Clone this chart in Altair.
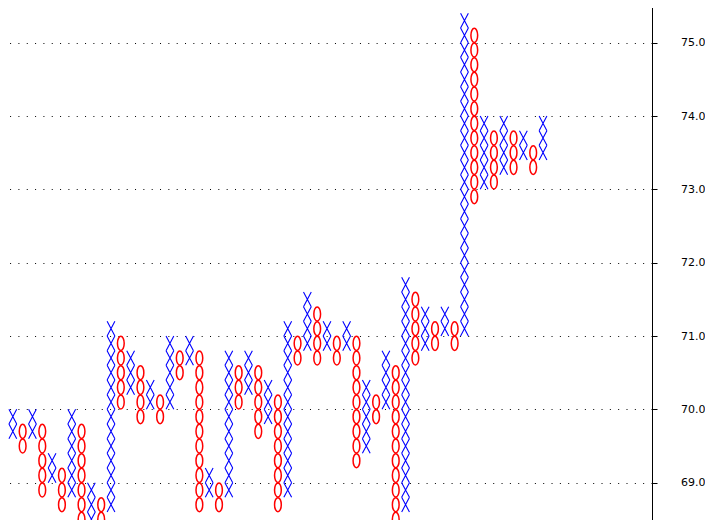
import altair as alt
import pandas as pd

# Point & figure columns: glyph type, upper edge of top box, lower edge of bottom box
col_type = ["O", "X", "O", "X", "O", "X", "O", "X", "O", "X",
            "O", "X", "O", "X", "O", "X", "O", "X", "O", "X",
            "O", "X", "O", "X", "O", "X", "O", "X", "O", "X",
            "O", "X", "O", "X", "O", "X", "O", "X", "O", "X",
            "O", "X", "O", "X", "O", "X", "O", "X", "O", "X",
            "O", "X", "O", "X", "O", "X"]
col_top = [69.8, 70.0, 69.8, 70.0, 69.8, 69.4, 69.2, 70.0, 69.8, 69.0,
           68.8, 71.2, 71.0, 70.8, 70.6, 70.4, 70.2, 71.0, 70.8, 71.0,
           70.8, 69.2, 69.0, 70.8, 70.6, 70.8, 70.6, 70.4, 70.2, 71.2,
           71.0, 71.6, 71.4, 71.2, 71.0, 71.2, 71.0, 70.4, 70.2, 70.8,
           70.6, 71.8, 71.6, 71.4, 71.2, 71.4, 71.2, 75.4, 75.2, 74.0,
           73.8, 74.0, 73.8, 73.8, 73.6, 74.0]
col_bottom = [69.4, 69.6, 69.4, 69.6, 68.8, 69.0, 68.6, 68.8, 68.2, 68.4,
              68.4, 68.6, 70.0, 70.2, 69.8, 70.0, 69.8, 70.0, 70.4, 70.6,
              68.6, 68.8, 68.6, 68.8, 70.0, 70.2, 69.6, 69.8, 68.6, 68.8,
              70.6, 70.8, 70.6, 70.8, 70.6, 70.8, 69.2, 69.4, 69.8, 70.0,
              68.4, 68.6, 70.6, 70.8, 70.8, 71.0, 70.8, 71.0, 72.8, 73.0,
              73.0, 73.2, 73.2, 73.4, 73.2, 73.4]
box_size = 0.2
y_ticks = [69.0, 70.0, 71.0, 72.0, 73.0, 74.0, 75.0]

rows = []
for i, (t, top, bot) in enumerate(zip(col_type, col_top, col_bottom), start=1):
    n = int(round((top - bot) / box_size))
    for k in range(n):
        rows.append({"col": i, "price": round(bot + box_size * (k + 0.5), 2), "type": t})
df = pd.DataFrame(rows)

X_PATH = "M-0.53,-1L0.53,1M0.53,-1L-0.53,1"
O_PATH = "M0,-0.96A0.46,0.96,0,1,1,0,0.96A0.46,0.96,0,1,1,0,-0.96Z"

x_scale = alt.Scale(domain=[0.694, 67.1], nice=False, zero=False)
y_scale = alt.Scale(domain=[68.491, 75.582], nice=False, zero=False)
y_axis = alt.Axis(orient="right", values=y_ticks, format=".1f", grid=True,
                  gridDash=[1, 7.33], gridColor="#000000", gridOpacity=1, gridWidth=1,
                  domainColor="#000000", domainWidth=1, tickColor="#000000", tickSize=5,
                  labelFont="DejaVu Sans", labelFontSize=11, labelColor="#000000",
                  labelAlign="right", labelBaseline="middle", labelPadding=48,
                  title=None)

base = alt.Chart(df)
xs = base.transform_filter(alt.datum.type == "X").mark_point(
    shape=X_PATH, size=215, filled=False, stroke="#0000FF", strokeWidth=1.1,
    opacity=1, clip=True
).encode(
    x=alt.X("col:Q", scale=x_scale, axis=None),
    y=alt.Y("price:Q", scale=y_scale, axis=y_axis),
)
os_ = base.transform_filter(alt.datum.type == "O").mark_point(
    shape=O_PATH, size=215, filled=False, stroke="#FF0000", strokeWidth=1.5,
    opacity=1, clip=True
).encode(
    x=alt.X("col:Q", scale=x_scale, axis=None),
    y=alt.Y("price:Q", scale=y_scale, axis=y_axis),
)

chart = alt.layer(xs, os_).properties(
    width=652, height=520,
    padding={"left": -8, "top": -8, "right": 0, "bottom": 0},
    background="#FFFFFF",
).configure_view(strokeWidth=0)

chart.save("out.html", embed_options={"renderer": "svg", "actions": False})
